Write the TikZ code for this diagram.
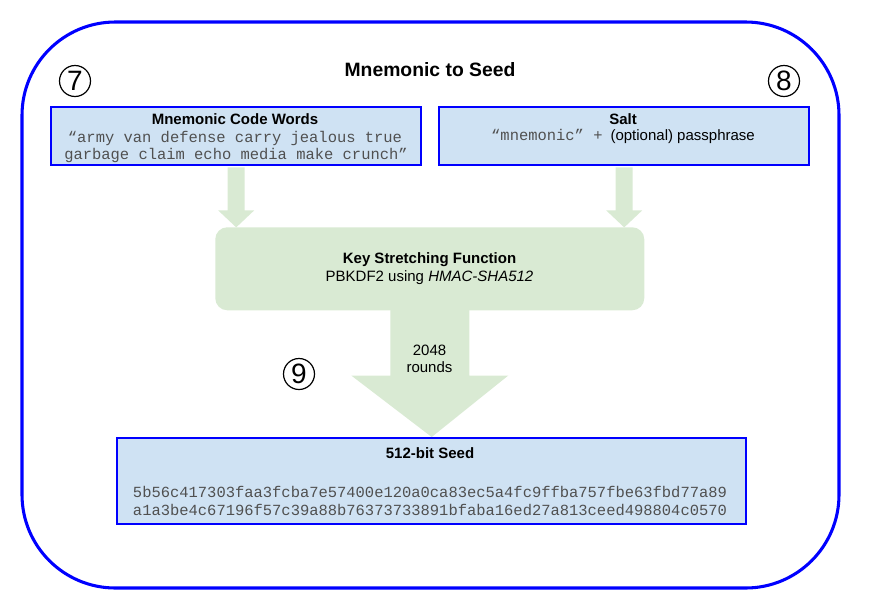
\documentclass[tikz,border=0pt]{standalone}
\usepackage{fontspec}
\setmainfont{Liberation Sans}
\setmonofont{Liberation Mono}
\usetikzlibrary{calc}
\definecolor{boxblue}{RGB}{207,226,243}
\definecolor{lineblue}{RGB}{0,0,255}
\definecolor{agreen}{RGB}{217,234,211}
\definecolor{monogray}{RGB}{80,80,80}
\tikzset{
  bluebox/.style={draw=lineblue,line width=1.8pt,fill=boxblue,inner sep=0pt,anchor=north west},
  txt/.style={inner sep=0pt,align=center,font=\fontsize{11.25}{12.75}\selectfont},
  mono/.style={txt,text=monogray,font=\fontsize{11.6}{12.75}\selectfont\ttfamily},
  circ/.style={circle,draw=black,line width=0.9pt,minimum size=31*0.75pt,inner sep=0pt,font=\fontsize{21}{21}\selectfont},
}
\begin{document}
\begin{tikzpicture}[x=0.75pt,y=-0.75pt]
\useasboundingbox (0,0) rectangle (889,604);
% outer frame
\draw[lineblue,line width=2.3pt,rounded corners=70pt] (22,22) rectangle (839,588);
\node[txt,font=\fontsize{14.5}{16}\selectfont\bfseries] (title) at (430,70) {Mnemonic to Seed};
\node[circ] (c7) at (75,81) {\raisebox{-0.2pt}{7}};
\node[circ] (c8) at (784,81) {\raisebox{-0.2pt}{8}};
\node[circ] (c9) at (299,374) {\raisebox{-0.2pt}{9}};
% boxes (shapes)
\node[bluebox,minimum width=370*0.75pt,minimum height=58*0.75pt] (mcw) at (50,106) {};
\node[bluebox,minimum width=370*0.75pt,minimum height=58*0.75pt] (salt) at (438,106) {};
\node[fill=agreen,rounded corners=9pt,inner sep=0pt,anchor=north west,minimum width=429*0.75pt,minimum height=83*0.75pt] (ksf) at (215,227) {};
\node[bluebox,minimum width=629*0.75pt,minimum height=86*0.75pt] (seed) at (116,437) {};
% block arrows
\fill[agreen] ($(mcw.south)+(-8.5,1)$) -- ($(mcw.south)+(8.5,1)$) -- ($(mcw.south)+(8.5,44)$) -- ($(mcw.south)+(18,44)$) -- ($(mcw.south)+(0,61)$) -- ($(mcw.south)+(-18,44)$) -- ($(mcw.south)+(-8.5,44)$) -- cycle;
\fill[agreen] ($(salt.south)+(-8.5,1)$) -- ($(salt.south)+(8.5,1)$) -- ($(salt.south)+(8.5,44)$) -- ($(salt.south)+(18,44)$) -- ($(salt.south)+(0,61)$) -- ($(salt.south)+(-18,44)$) -- ($(salt.south)+(-8.5,44)$) -- cycle;
\fill[agreen] ($(ksf.south)+(-39.5,-1)$) -- ($(ksf.south)+(39.5,-1)$) -- ($(ksf.south)+(39.5,65)$) -- ($(ksf.south)+(78.5,65)$) -- (seed.north) -- ($(ksf.south)+(-78.5,65)$) -- ($(ksf.south)+(-39.5,65)$) -- cycle;
% texts
\node[txt,font=\fontsize{11.25}{12.75}\selectfont\bfseries] (mcwt) at (235,119) {Mnemonic Code Words};
\node[mono] (mcw1) at (235,138) {“army van defense carry jealous true};
\node[mono] (mcw2) at (236,155) {garbage claim echo media make crunch”};
\node[txt,font=\fontsize{11.25}{12.75}\selectfont\bfseries] (saltt) at (623,119) {Salt};
\node[txt] (salt1) at (623,136) {{\color{monogray}\fontsize{11.6}{12.75}\selectfont\ttfamily “mnemonic” +}\hspace{6pt}(optional) passphrase};
\node[txt,font=\fontsize{11.25}{12.75}\selectfont\bfseries] (ksft) at (429.5,260) {Key Stretching Function};
\node[txt] (ksf1) at (429.5,278) {PBKDF2 using \textit{HMAC-SHA512}};
\node[txt] (rounds) at (429.5,359) {2048\\rounds};
\node[txt,font=\fontsize{11.25}{12.75}\selectfont\bfseries] (seedt) at (430,453) {512-bit Seed};
\node[mono] (seed1) at (430,492) {5b56c417303faa3fcba7e57400e120a0ca83ec5a4fc9ffba757fbe63fbd77a89};
\node[mono] (seed2) at (430,510) {a1a3be4c67196f57c39a88b76373733891bfaba16ed27a813ceed498804c0570};
\end{tikzpicture}
\end{document}
